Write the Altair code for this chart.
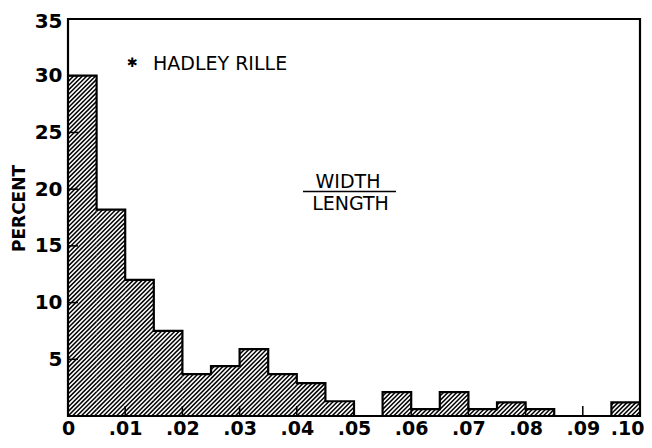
import math
import altair as alt
import pandas as pd

# ---- data ----
bin_starts = [0.000, 0.005, 0.010, 0.015, 0.020, 0.025, 0.030, 0.035, 0.040, 0.045,
              0.050, 0.055, 0.060, 0.065, 0.070, 0.075, 0.080, 0.085, 0.090, 0.095]
percent = [30.0, 18.2, 12.0, 7.5, 3.7, 4.4, 5.9, 3.7, 2.9, 1.3,
           0.0, 2.1, 0.6, 2.1, 0.6, 1.2, 0.6, 0.0, 0.0, 1.2]
bin_width = 0.005
x_label_values = [0.0, 0.01, 0.02, 0.03, 0.04, 0.05, 0.06, 0.07, 0.08, 0.09, 0.10]
x_inner_ticks = [0.01, 0.02, 0.03, 0.04, 0.05, 0.06, 0.07, 0.08, 0.09]
y_label_values = [5, 10, 15, 20, 25, 30, 35]
y_inner_ticks = [5, 10, 15, 20, 25, 30]

# ---- layout ----
W, H = 572, 397
X_MAX, Y_MAX = 0.10, 35
FONT = "DejaVu Sans"

xs = alt.Scale(domain=[0, X_MAX], nice=False, zero=False)
ys = alt.Scale(domain=[0, Y_MAX], nice=False)

x_axis = alt.Axis(
    values=x_label_values,
    labelExpr="datum.value == 0 ? '0' : replace(format(datum.value, '.2f'), '0.', '.')",
    labelAlign={"condition": {"test": "datum.value >= 0.099", "value": "right"}, "value": "center"},
    labelOffset={"condition": {"test": "datum.value >= 0.099", "value": 4}, "value": 0},
    labelPadding=3,
    title=None,
    domain=False, ticks=False, grid=False,
    labelFont=FONT, labelFontSize=19, labelFontWeight="bold", labelColor="black",
)
y_axis = alt.Axis(
    values=y_label_values,
    labelPadding=6,
    labelOffset={"condition": {"test": "datum.value >= 34", "value": 2}, "value": 0},
    title="PERCENT",
    titleX=-49,
    titleY=189,
    titleAngle=270,
    titleAlign="center",
    titleBaseline="middle",
    titleFontSize=17,
    titleFontWeight="bold",
    titleFont=FONT,
    titleColor="black",
    domain=False, ticks=False, grid=False,
    labelFont=FONT, labelFontSize=20, labelFontWeight="bold", labelColor="black",
)

# outline (step) of the histogram
outline = pd.DataFrame({
    "x": bin_starts + [bin_starts[-1] + bin_width],
    "y": percent + [percent[-1]],
})

# hatching: 45-degree lines clipped to each bar, derived from the bar values
sx, sy = W / X_MAX, H / Y_MAX
spacing = 4.4
segs = []
for x0, v in zip(bin_starts, percent):
    if v <= 0:
        continue
    x0p, x1p, hp = x0 * sx, (x0 + bin_width) * sx, v * sy
    kmin = math.floor((x0p - hp) / spacing)
    kmax = math.ceil(x1p / spacing)
    for k in range(kmin, kmax + 1):
        c = k * spacing
        lo, hi = max(x0p, c), min(x1p, c + hp)
        if hi - lo > 0.05:
            segs.append({"x": lo / sx, "y": (lo - c) / sy,
                         "x2": hi / sx, "y2": (hi - c) / sy})
hatch_df = pd.DataFrame(segs)

step = alt.Chart(outline).mark_line(
    color="black", strokeWidth=2.2, interpolate="step-after", clip=True
).encode(
    x=alt.X("x:Q", scale=xs, axis=x_axis),
    y=alt.Y("y:Q", scale=ys, axis=y_axis),
)

hatch = alt.Chart(hatch_df).mark_rule(color="black", strokeWidth=1.5, clip=True).encode(
    x=alt.X("x:Q", scale=xs),
    y=alt.Y("y:Q", scale=ys),
    x2="x2:Q",
    y2="y2:Q",
)

xt = alt.Chart(pd.DataFrame({"x": x_inner_ticks})).mark_rule(color="black", strokeWidth=1.5).encode(
    x=alt.X("x:Q", scale=xs),
    y=alt.value(H),
    y2=alt.value(H - 10),
)
yt = alt.Chart(pd.DataFrame({"y": y_inner_ticks})).mark_rule(color="black", strokeWidth=1.5).encode(
    y=alt.Y("y:Q", scale=ys),
    x=alt.value(0),
    x2=alt.value(10),
)

star = alt.Chart().mark_text(text="✱", font=FONT, fontSize=13, color="black",
                             align="center", baseline="middle").encode(
    x=alt.value(64.5), y=alt.value(44))
hadley = alt.Chart().mark_text(text="HADLEY RILLE", font=FONT, fontSize=19, color="black",
                               align="left", baseline="middle").encode(
    x=alt.value(85), y=alt.value(45))
width_txt = alt.Chart().mark_text(text="WIDTH", font=FONT, fontSize=19, color="black",
                                  align="center", baseline="middle").encode(
    x=alt.value(280), y=alt.value(163))
length_txt = alt.Chart().mark_text(text="LENGTH", font=FONT, fontSize=19, color="black",
                                   align="center", baseline="middle").encode(
    x=alt.value(282.5), y=alt.value(185))
frac = alt.Chart().mark_rule(color="black", strokeWidth=1.6).encode(
    x=alt.value(235), x2=alt.value(328), y=alt.value(172.5))

chart = alt.layer(
    step, hatch, xt, yt, star, hadley, width_txt, length_txt, frac
).properties(
    width=W, height=H,
    background="white",
    padding={"left": 60, "top": 11, "right": 4, "bottom": 24},
    autosize=alt.AutoSizeParams(type="none"),
).configure_view(
    stroke="black", strokeWidth=2.2, fill="white"
)

chart.save("out.html", embed_options={"renderer": "svg", "actions": False})
